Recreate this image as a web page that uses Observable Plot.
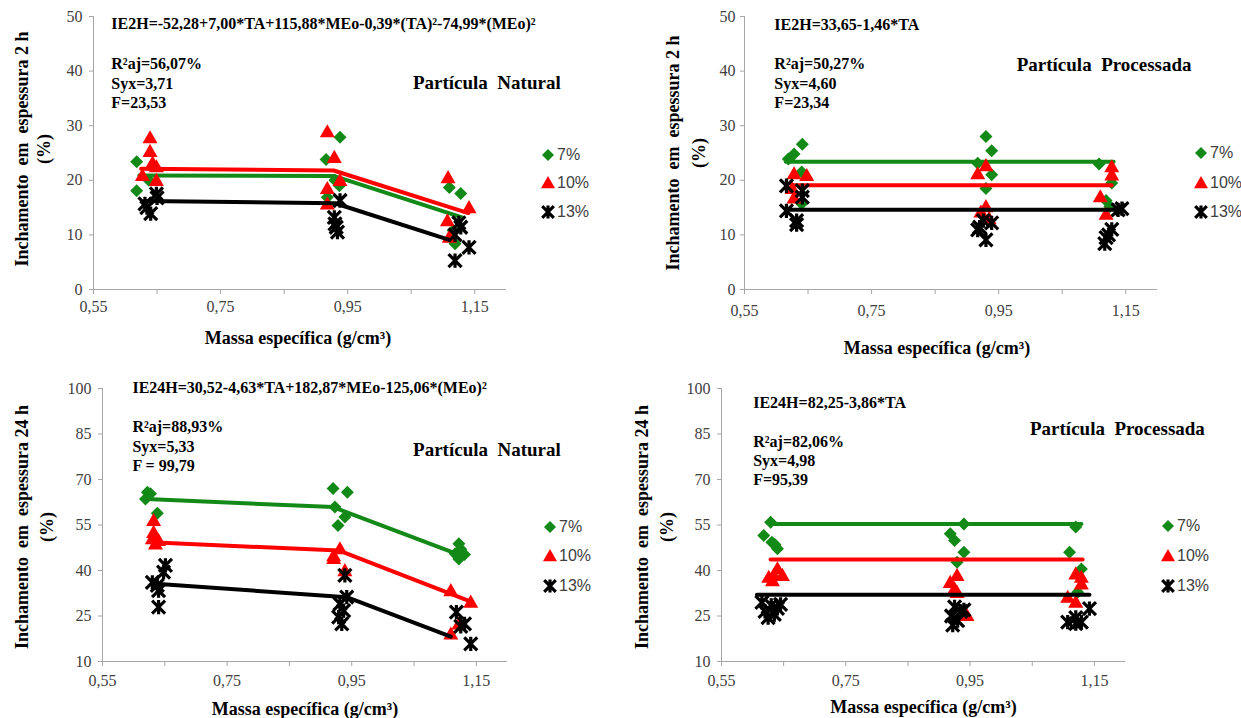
<!DOCTYPE html>
<html><head><meta charset="utf-8">
<script src="https://cdn.jsdelivr.net/npm/d3@7"></script>
<script src="https://cdn.jsdelivr.net/npm/@observablehq/plot@0.6"></script>
<style>
body{margin:0;background:#fff;}
#root{position:relative;width:1241px;height:718px;overflow:hidden;font-family:"Liberation Serif","Times New Roman",serif;}
.panel{position:absolute;}
.legend-item{position:absolute;display:flex;align-items:center;font-family:"Liberation Sans",Arial,sans-serif;font-size:16px;color:#404040;line-height:16px;white-space:nowrap;}
.legend-item svg{margin-right:1px;}
</style></head><body><div id="root"></div>
<script>
// ---------- shared labels ----------
const seriesNames = ["7%", "10%", "13%"];
const seriesColors = ["#138a17", "#ff0000", "#000000"];
const xTickVals = [0.55, 0.65, 0.75, 0.85, 0.95, 1.05, 1.15];
const xTickLabels = [0.55, 0.75, 0.95, 1.15];
const yTicks2h = [0, 10, 20, 30, 40, 50];
const yTicks24h = [10, 25, 40, 55, 70, 85, 100];
const xTitle = "Massa específica (g/cm³)";

// ---------- Panel A: 2 h, Partícula Natural ----------
const n2_x7 = [0.618, 0.618, 0.637, 0.916, 0.938, 0.918, 0.937, 0.930, 1.110, 1.128, 1.119, 1.116];
const n2_y7 = [23.4, 18.1, 20.0, 23.8, 27.9, 16.9, 19.0, 20.0, 18.7, 17.6, 8.4, 10.8];
const n2_x10 = [0.639, 0.639, 0.643, 0.649, 0.627, 0.649, 0.918, 0.929, 0.918, 0.918, 0.938, 1.108, 1.141, 1.107, 1.110];
const n2_y10 = [27.8, 25.3, 23.2, 22.5, 20.9, 20.0, 28.9, 24.2, 18.5, 15.7, 20.0, 20.5, 15.0, 12.6, 9.6];
const n2_x13 = [0.631, 0.640, 0.649, 0.650, 0.634, 0.929, 0.932, 0.934, 0.938, 0.930, 1.119, 1.141, 1.128, 1.125, 1.119];
const n2_y13 = [15.7, 13.9, 17.5, 16.8, 15.0, 13.2, 11.4, 10.5, 16.3, 12.0, 5.3, 7.7, 11.4, 12.2, 10.0];
const n2_fx7 = [0.622, 0.928, 1.130], n2_fy7 = [20.9, 20.8, 13.2];
const n2_fx10 = [0.625, 0.928, 1.140], n2_fy10 = [22.1, 21.8, 14.0];
const n2_fx13 = [0.630, 0.930, 1.110], n2_fy13 = [16.2, 15.8, 9.1];
const n2_eq = "IE2H=-52,28+7,00*TA+115,88*MEo-0,39*(TA)²-74,99*(MEo)²";
const n2_stats = ["R²aj=56,07%", "Syx=3,71", "F=23,53"];

// ---------- Panel B: 2 h, Partícula Processada ----------
const p2_x7 = [0.619, 0.628, 0.641, 0.640, 0.640, 0.930, 0.939, 0.917, 0.939, 0.930, 1.108, 1.128, 1.119, 1.125];
const p2_y7 = [23.9, 24.8, 26.6, 21.5, 15.7, 28.0, 25.4, 23.1, 21.0, 18.5, 23.0, 19.5, 16.3, 15.2];
const p2_x10 = [0.628, 0.648, 0.625, 0.628, 0.917, 0.930, 0.930, 0.922, 0.935, 1.110, 1.128, 1.128, 1.119];
const p2_y10 = [21.2, 20.9, 18.5, 16.8, 21.2, 22.7, 15.2, 14.2, 13.0, 17.0, 22.5, 21.0, 13.8];
const p2_x13 = [0.616, 0.616, 0.632, 0.632, 0.641, 0.641, 0.926, 0.920, 0.930, 0.939, 0.917, 1.117, 1.119, 1.128, 1.123, 1.138, 1.144];
const p2_y13 = [19.0, 14.4, 12.6, 11.9, 18.1, 16.9, 12.6, 11.4, 9.1, 12.2, 10.9, 8.4, 9.5, 11.0, 10.0, 14.6, 14.8];
const p2_fx7 = [0.615, 1.131], p2_fy7 = [23.4, 23.4];
const p2_fx10 = [0.625, 1.128], p2_fy10 = [19.1, 19.1];
const p2_fx13 = [0.617, 1.140], p2_fy13 = [14.6, 14.6];
const p2_eq = "IE2H=33,65-1,46*TA";
const p2_stats = ["R²aj=50,27%", "Syx=4,60", "F=23,34"];

// ---------- Panel C: 24 h, Partícula Natural ----------
const n24_x7 = [0.622, 0.619, 0.627, 0.638, 0.920, 0.943, 0.923, 0.939, 0.928, 1.122, 1.116, 1.131, 1.125, 1.122];
const n24_y7 = [65.8, 63.6, 65.3, 58.9, 67.0, 65.8, 60.9, 57.6, 54.8, 48.8, 45.5, 45.3, 47.0, 43.8];
const n24_x10 = [0.632, 0.632, 0.630, 0.640, 0.635, 0.921, 0.931, 0.939, 0.921, 1.109, 1.141, 1.109, 1.122];
const n24_y10 = [56.5, 52.6, 50.5, 49.9, 48.8, 44.9, 47.2, 40.0, 44.0, 33.4, 29.6, 19.1, 22.4];
const n24_x13 = [0.651, 0.648, 0.630, 0.638, 0.640, 0.640, 0.939, 0.931, 0.937, 0.929, 0.934, 0.942, 1.118, 1.131, 1.125, 1.141];
const n24_y13 = [41.7, 39.5, 36.1, 35.1, 33.4, 27.9, 38.4, 29.0, 26.8, 24.6, 22.4, 31.2, 26.3, 22.4, 21.6, 15.8];
const n24_fx7 = [0.621, 0.920, 1.125], n24_fy7 = [63.6, 60.9, 45.0];
const n24_fx10 = [0.627, 0.929, 1.138], n24_fy10 = [49.3, 46.6, 30.0];
const n24_fx13 = [0.635, 0.942, 1.109], n24_fy13 = [35.6, 31.2, 18.2];
const n24_eq = "IE24H=30,52-4,63*TA+182,87*MEo-125,06*(MEo)²";
const n24_stats = ["R²aj=88,93%", "Syx=5,33", "F = 99,79"];

// ---------- Panel D: 24 h, Partícula Processada ----------
const p24_x7 = [0.629, 0.618, 0.631, 0.640, 0.636, 0.940, 0.918, 0.925, 0.940, 0.929, 1.120, 1.110, 1.129, 1.123];
const p24_y7 = [55.9, 51.5, 49.3, 47.2, 48.6, 55.3, 52.1, 49.9, 46.0, 42.7, 54.3, 46.0, 40.5, 32.8];
const p24_x10 = [0.634, 0.626, 0.648, 0.640, 0.632, 0.929, 0.918, 0.925, 0.929, 0.945, 1.120, 1.129, 1.129, 1.107, 1.120];
const p24_y10 = [38.4, 37.8, 38.4, 40.6, 36.7, 38.4, 36.1, 34.0, 32.8, 25.2, 38.9, 37.8, 35.6, 31.2, 29.6];
const p24_x13 = [0.615, 0.630, 0.640, 0.620, 0.635, 0.645, 0.625, 0.925, 0.935, 0.920, 0.930, 0.940, 0.922, 1.107, 1.120, 1.129, 1.142, 1.120];
const p24_y13 = [29.5, 28.5, 27.5, 26.5, 25.5, 28.8, 24.5, 28.0, 26.5, 25.0, 23.5, 27.0, 22.0, 23.0, 24.5, 23.0, 27.4, 22.5];
const p24_fx7 = [0.629, 1.129], p24_fy7 = [55.3, 55.3];
const p24_fx10 = [0.629, 1.131], p24_fy10 = [43.6, 43.6];
const p24_fx13 = [0.607, 1.142], p24_fy13 = [32.0, 32.0];
const p24_eq = "IE24H=82,25-3,86*TA";
const p24_stats = ["R²aj=82,06%", "Syx=4,98", "F=95,39"];

// ---------- symbols ----------
const diamondSym = {draw(ctx, size) { const r = Math.sqrt(size / Math.PI);
  ctx.moveTo(0, -r); ctx.lineTo(r, 0); ctx.lineTo(0, r); ctx.lineTo(-r, 0); ctx.closePath(); }};
const triangleSym = {draw(ctx, size) { const r = Math.sqrt(size / Math.PI);
  ctx.moveTo(0, -r); ctx.lineTo(r, r * 0.75); ctx.lineTo(-r, r * 0.75); ctx.closePath(); }};
const starSym = {draw(ctx, size) { const r = Math.sqrt(size / Math.PI);
  ctx.moveTo(-r, -r); ctx.lineTo(r, r); ctx.moveTo(r, -r); ctx.lineTo(-r, r);
  ctx.moveTo(0, -r * 1.1); ctx.lineTo(0, r * 1.1); }};
const seriesSyms = [diamondSym, triangleSym, starSym];
const seriesR = [6.5, 7.5, 6.5];

const fmt = d => d.toFixed(2).replace(".", ",");

function rows(xs, ys) { return xs.map((x, i) => ({x, y: ys[i]})); }

function makePanel(cfg) {
  const serif = "Liberation Serif";
  const marks = [
    Plot.ruleX([0.55], {stroke: "#a6a6a6"}),
    Plot.ruleY([cfg.yDomain[0]], {stroke: "#a6a6a6"}),
    Plot.axisY({ticks: cfg.yTicks, tickSize: 4, tickPadding: cfg.yPad, fontSize: 16, fontFamily: serif,
      stroke: "#a6a6a6", fill: "#404040", label: null, tickFormat: d => String(d)}),
    Plot.axisX({ticks: xTickVals, tickSize: 5, tickPadding: cfg.xPad, fontSize: 16, fontFamily: serif,
      stroke: "#a6a6a6", fill: "#404040", label: null,
      tickFormat: d => xTickLabels.some(v => Math.abs(v - d) < 1e-9) ? fmt(d) : ""})
  ];
  cfg.series.forEach((s, i) => {
    const pts = rows(s.x, s.y);
    if (i === 2) {
      marks.push(Plot.dot(pts, {x: "x", y: "y", symbol: starSym, r: seriesR[i], fill: "none", stroke: "#000", strokeWidth: 3.2}));
    } else {
      marks.push(Plot.dot(pts, {x: "x", y: "y", symbol: seriesSyms[i], r: seriesR[i], fill: seriesColors[i], stroke: "none"}));
    }
    marks.push(Plot.line(rows(s.fx, s.fy), {x: "x", y: "y", stroke: seriesColors[i], strokeWidth: 4}));
  });
  const tstyle = {fontWeight: "bold", fill: "#000", fontFamily: serif};
  marks.push(Plot.text([cfg.eq], {x: cfg.eqPos[0], y: cfg.eqPos[1], text: d => d, textAnchor: "start", lineAnchor: "middle", fontSize: 16, ...tstyle}));
  cfg.stats.forEach((t, k) => {
    marks.push(Plot.text([t], {x: cfg.statX, y: cfg.statY[k], text: d => d, textAnchor: "start", lineAnchor: "middle", fontSize: 16, ...tstyle}));
  });
  marks.push(Plot.text([cfg.name], {x: cfg.namePos[0], y: cfg.namePos[1], text: d => d, textAnchor: "middle", lineAnchor: "middle", fontSize: 19, ...tstyle}));
  marks.push(Plot.text([cfg.yTitle], {frameAnchor: "left", rotate: -90, dx: cfg.yTitleDx[0], dy: cfg.yTitleDy, text: d => d, textAnchor: "middle", lineAnchor: "middle", fontSize: 18, ...tstyle}));
  marks.push(Plot.text(["(%)"], {frameAnchor: "left", rotate: -90, dx: cfg.yTitleDx[1], dy: cfg.yTitleDy, text: d => d, textAnchor: "middle", lineAnchor: "middle", fontSize: 18, ...tstyle}));
  marks.push(Plot.text([xTitle], {frameAnchor: "bottom", dy: cfg.xTitleDy, dx: cfg.xTitleDx, text: d => d, textAnchor: "middle", lineAnchor: "middle", fontSize: 18, ...tstyle}));

  const svg = Plot.plot({
    width: cfg.width, height: cfg.height,
    marginLeft: cfg.m[3], marginRight: cfg.m[1], marginTop: cfg.m[0], marginBottom: cfg.m[2],
    x: {domain: [0.55, 1.20]},
    y: {domain: cfg.yDomain},
    style: {fontFamily: serif, background: "transparent", overflow: "visible"},
    marks
  });
  const div = document.createElement("div");
  div.className = "panel";
  div.style.left = cfg.left + "px"; div.style.top = cfg.top + "px";
  div.appendChild(svg);
  document.getElementById("root").appendChild(div);

  // legend
  cfg.legendY.forEach((ly, i) => {
    const p = d3.path();
    const lr = [6, 7, 5.8][i];
    seriesSyms[i].draw(p, Math.PI * lr * lr);
    const paint = i === 2 ? `fill="none" stroke="#000" stroke-width="3.2"` : `fill="${seriesColors[i]}"`;
    const item = document.createElement("div");
    item.className = "legend-item";
    item.style.left = (cfg.legendX - 8) + "px";
    item.style.top = (ly - 8) + "px";
    item.innerHTML = `<svg width="16" height="16" viewBox="-8 -8 16 16" style="overflow:visible"><path d="${p.toString()}" ${paint}/></svg><span>${seriesNames[i]}</span>`;
    document.getElementById("root").appendChild(item);
  });
}

makePanel({
  left: 0, top: 0, width: 620, height: 360, m: [16, 114, 71, 93],
  yDomain: [0, 50], yTicks: yTicks2h, yPad: 7, xPad: 6,
  series: [
    {x: n2_x7, y: n2_y7, fx: n2_fx7, fy: n2_fy7},
    {x: n2_x10, y: n2_y10, fx: n2_fx10, fy: n2_fy10},
    {x: n2_x13, y: n2_y13, fx: n2_fx13, fy: n2_fy13}],
  eq: n2_eq, eqPos: [0.578, 48.7], stats: n2_stats, statX: 0.578, statY: [41.4, 37.7, 34.1],
  name: "Partícula  Natural", namePos: [1.169, 37.9],
  yTitle: "Inchamento  em  espessura 2 h", yTitleDx: [-71, -49.5], yTitleDy: -4, xTitleDy: 49, xTitleDx: -2,
  legendX: 548, legendY: [155, 183, 212]
});
makePanel({
  left: 620, top: 0, width: 621, height: 360, m: [16, 84, 71, 124],
  yDomain: [0, 50], yTicks: yTicks2h, yPad: 5, xPad: 10,
  series: [
    {x: p2_x7, y: p2_y7, fx: p2_fx7, fy: p2_fy7},
    {x: p2_x10, y: p2_y10, fx: p2_fx10, fy: p2_fy10},
    {x: p2_x13, y: p2_y13, fx: p2_fx13, fy: p2_fy13}],
  eq: p2_eq, eqPos: [0.597, 48.4], stats: p2_stats, statX: 0.597, statY: [41.4, 37.7, 34.2],
  name: "Partícula  Processada", namePos: [1.116, 41.2],
  yTitle: "Inchamento  em  espessura 2 h", yTitleDx: [-71, -45], yTitleDy: 0, xTitleDy: 59, xTitleDx: -14,
  legendX: 1201, legendY: [153, 183, 212]
});
makePanel({
  left: 0, top: 360, width: 620, height: 358, m: [28, 113, 57, 102],
  yDomain: [10, 100], yTicks: yTicks24h, yPad: 7, xPad: 8,
  series: [
    {x: n24_x7, y: n24_y7, fx: n24_fx7, fy: n24_fy7},
    {x: n24_x10, y: n24_y10, fx: n24_fx10, fy: n24_fy10},
    {x: n24_x13, y: n24_y13, fx: n24_fx13, fy: n24_fy13}],
  eq: n24_eq, eqPos: [0.598, 100.3], stats: n24_stats, statX: 0.598, statY: [87.2, 80.9, 74.6],
  name: "Partícula  Natural", namePos: [1.167, 79.9],
  yTitle: "Inchamento  em  espessura 24 h", yTitleDx: [-80, -55], yTitleDy: 2, xTitleDy: 48, xTitleDx: 0,
  legendX: 550, legendY: [527, 556, 586]
});
makePanel({
  left: 620, top: 360, width: 621, height: 358, m: [28, 116, 57, 101],
  yDomain: [10, 100], yTicks: yTicks24h, yPad: 7, xPad: 8,
  series: [
    {x: p24_x7, y: p24_y7, fx: p24_fx7, fy: p24_fy7},
    {x: p24_x10, y: p24_y10, fx: p24_fx10, fy: p24_fy10},
    {x: p24_x13, y: p24_y13, fx: p24_fx13, fy: p24_fy13}],
  eq: p24_eq, eqPos: [0.601, 95.4], stats: p24_stats, statX: 0.601, statY: [82.5, 76.3, 70.0],
  name: "Partícula  Processada", namePos: [1.187, 86.8],
  yTitle: "Inchamento  em  espessura 24 h", yTitleDx: [-79, -54], yTitleDy: 2, xTitleDy: 46, xTitleDx: 0,
  legendX: 1168, legendY: [526, 556, 586]
});
</script></body></html>
